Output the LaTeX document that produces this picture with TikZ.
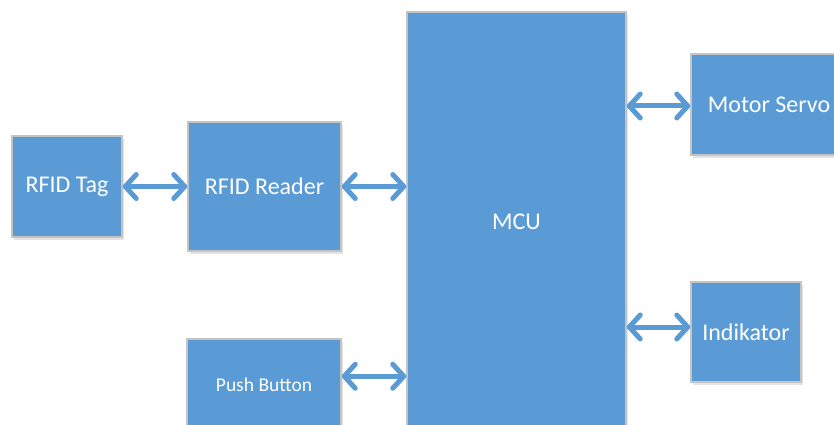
\documentclass[tikz,border=0pt]{standalone}
\usepackage{fontspec}
\setmainfont{Carlito}
\usetikzlibrary{arrows.meta,shadows,calc}
\definecolor{blk}{HTML}{5B9BD5}
\definecolor{bord}{HTML}{C4C4C4}
\begin{document}
\begin{tikzpicture}[x=1pt,y=-1pt,
  box/.style={draw=bord, line width=1.5pt, fill=blk, text=white, inner sep=0pt,
    font=\fontsize{24}{28}\selectfont,
    drop shadow={shadow xshift=2pt, shadow yshift=-3pt, opacity=0.18, fill=black!60}},
  link/.style={draw=blk, line width=5pt,
    {Straight Barb[length=11pt,width=24pt,round]}-{Straight Barb[length=11pt,width=24pt,round]}}]
\useasboundingbox (0,0) rectangle (834,425);
\clip (0,0) rectangle (834,425);
\node[box, minimum width=110, minimum height=101] (tag) at (67,186.5) {RFID Tag};
\node[box, minimum width=153, minimum height=129] (reader) at (264.5,186.5) {RFID Reader};
\node[box, minimum width=154, minimum height=92, font=\fontsize{19.5}{22}\selectfont] (push) at (264,385) {Push Button};
\node[box, minimum width=219, minimum height=420] (mcu) at (516.5,222) {MCU};
\node[box, minimum width=156, minimum height=101] (motor) at (769,104.5) {Motor Servo};
\node[box, minimum width=110, minimum height=100] (ind) at (746,332) {Indikator};
\coordinate (pa) at ($(push.north east)+(0,38)$);
\coordinate (ia) at ($(ind.west)+(0,-5)$);
\coordinate (ma) at ($(motor.west)+(0,1.5)$);
\draw[link] (tag.east) -- (reader.west);
\draw[link] (reader.east) -- (reader.east -| mcu.west);
\draw[link] (pa) -- (pa -| mcu.west);
\draw[link] (ma -| mcu.east) -- (ma);
\draw[link] (ia -| mcu.east) -- (ia);
\end{tikzpicture}
\end{document}
